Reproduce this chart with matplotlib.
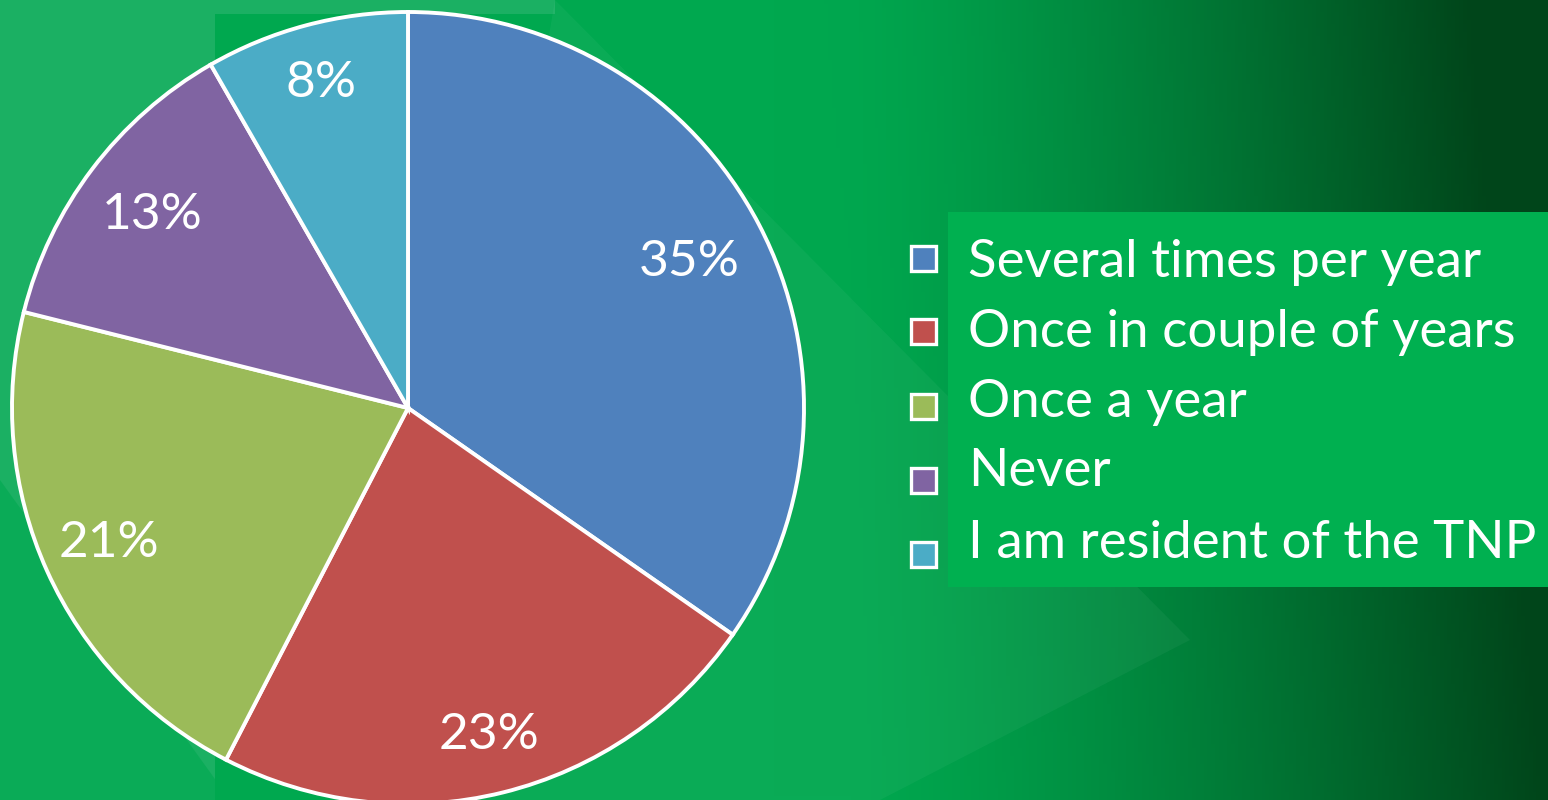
import numpy as np
import matplotlib.pyplot as plt
from matplotlib.patches import Rectangle, Polygon

# Survey answers (share of respondents, %)
categories = ['Several times per year', 'Once in couple of years', 'Once a year',
              'Never', 'I am resident of the TNP']
shares = [34.7, 22.9, 21.3, 12.8, 8.3]
colors = ['#4F81BD', '#C0504D', '#9BBB59', '#8064A2', '#4BACC6']
# radial position of each percentage label (fraction of the radius)
label_dist = [0.80, 0.85, 0.83, 0.81, 0.85]

W, H = 1548, 800
plt.rcParams['font.family'] = ['Lato', 'DejaVu Sans']

fig = plt.figure(figsize=(W / 100, H / 100), dpi=100)
ax = fig.add_axes([0, 0, 1, 1])

# Background: green slide gradient, darker to the right
xx = np.linspace(0, 1, 400)
yy = np.linspace(0, 1, 200)
X, Y = np.meshgrid(xx, yy)
t = np.clip((X - 0.55) / 0.45, 0, 1) ** 1.3
t = np.clip(t + 0.15 * np.clip((X - 0.5) / 0.5, 0, 1) * (1 - Y), 0, 1)
c0 = np.array([0x00, 0xA8, 0x4F]) / 255
c1 = np.array([0x00, 0x45, 0x1A]) / 255
img = c0[None, None, :] * (1 - t[..., None]) + c1[None, None, :] * t[..., None]
ax.imshow(img, extent=[0, W, 0, H], origin='upper', aspect='auto', zorder=0)

# lighter decorative shapes
ax.add_patch(Rectangle((0, 0), 215, H, color='#1BB063', zorder=1, lw=0))
ax.add_patch(Rectangle((215, H - 14), 340, 14, color='#1BB063', zorder=1, lw=0))
ax.add_patch(Polygon([(555, H), (1190, H - 640), (880, H - 800), (420, H - 800)],
                     closed=True, color='white', alpha=0.045, lw=0, zorder=1))
ax.add_patch(Polygon([(0, H - 480), (230, H - 800), (0, H - 800)],
                     closed=True, color='#00A84F', alpha=0.6, lw=0, zorder=1))

# Pie
cx, cy, r = 408, H - 408, 396
wedges, texts, autotexts = ax.pie(
    shares, colors=colors, startangle=90, counterclock=False,
    center=(cx, cy), radius=r, autopct='%.0f%%', pctdistance=0.82,
    wedgeprops=dict(edgecolor='white', linewidth=2.8),
    textprops=dict(color='white', fontsize=37))
for w, at, d in zip(wedges, autotexts, label_dist):
    w.set_zorder(3)
    mid = np.deg2rad((w.theta1 + w.theta2) / 2)
    at.set_position((cx + d * r * np.cos(mid), cy + d * r * np.sin(mid)))
    at.set_zorder(4)

# Legend box and entries
ax.add_patch(Rectangle((948, H - 587), W - 948, 375, color='#00B050', lw=0, zorder=2))
marker_y = [259, 332, 407, 481, 555]
text_y = [262, 332, 403, 472, 543]
for name, col, my, ty in zip(categories, colors, marker_y, text_y):
    ax.add_patch(Rectangle((911, H - my - 12), 25, 25, facecolor=col,
                           edgecolor='white', lw=2.4, zorder=3))
    ax.text(968, H - ty, name, color='white', fontsize=38, va='center',
            ha='left', zorder=4)

ax.set_xlim(0, W)
ax.set_ylim(0, H)
ax.set_aspect('auto')
ax.set_axis_off()

fig.savefig('out.png', dpi=100)
